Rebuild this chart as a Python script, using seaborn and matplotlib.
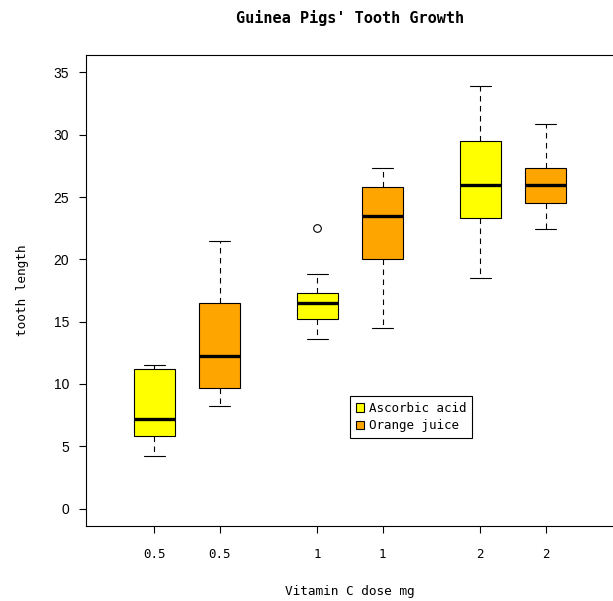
import numpy as np
import pandas as pd
import seaborn as sns
import matplotlib as mpl
import matplotlib.pyplot as plt
from matplotlib import cbook

# ToothGrowth: tooth length, 10 guinea pigs per dose and supplement
doses = ["0.5", "1", "2"]
supp_names = ["Ascorbic acid", "Orange juice"]
vc_05 = [4.2, 11.5, 7.3, 5.8, 6.4, 10.0, 11.2, 11.2, 5.2, 7.0]
vc_1 = [16.5, 16.5, 15.2, 17.3, 22.5, 17.3, 13.6, 14.5, 18.8, 15.5]
vc_2 = [23.6, 18.5, 33.9, 25.5, 26.4, 32.5, 26.7, 21.5, 23.3, 29.5]
oj_05 = [15.2, 21.5, 17.6, 9.7, 14.5, 10.0, 8.2, 9.4, 16.5, 9.7]
oj_1 = [19.7, 23.3, 23.6, 26.4, 20.0, 25.2, 25.8, 21.2, 14.5, 27.3]
oj_2 = [25.5, 26.4, 22.4, 24.5, 24.8, 30.9, 26.4, 27.3, 29.4, 23.0]
tick_labels = ["0.5", "0.5", "1", "1", "2", "2"]
colors = {"Ascorbic acid": "#FFFF00", "Orange juice": "#FFA500"}

# long table, boxes sit at dose index -/+ 0.2
rows = []
for supp, shift, groups in [("Ascorbic acid", -0.2, [vc_05, vc_1, vc_2]),
                            ("Orange juice", 0.2, [oj_05, oj_1, oj_2])]:
    for i, vals in enumerate(groups):
        for v in vals:
            rows.append({"pos": i + 1 + shift, "len": v, "supp": supp, "dose": doses[i]})
df = pd.DataFrame(rows)
tick_pos = sorted(df["pos"].unique())

# R boxplots use Tukey hinges (fivenum) rather than linear percentiles
_mpl_stats = cbook.boxplot_stats


def tukey_stats(X, whis=1.5, **kws):
    stats = _mpl_stats(X, whis=whis, **kws)
    for st, x in zip(stats, X):
        x = np.sort(np.asarray(x, dtype=float))
        n = len(x)
        n4 = np.floor((n + 3) / 2) / 2
        d = np.array([n4, n + 1 - n4]) - 1
        q1, q3 = 0.5 * (x[np.floor(d).astype(int)] + x[np.ceil(d).astype(int)])
        iqr = q3 - q1
        lo, hi = q1 - whis * iqr, q3 + whis * iqr
        inside = x[(x >= lo) & (x <= hi)]
        st.update(q1=q1, q3=q3, iqr=iqr, whislo=inside.min(), whishi=inside.max(),
                  fliers=x[(x < lo) | (x > hi)])
    return stats


mpl.cbook.boxplot_stats = tukey_stats

sns.set_style("white")
plt.rcParams["font.family"] = ["DejaVu Sans Mono", "DejaVu Sans"]
plt.rcParams["text.color"] = "black"
plt.rcParams["axes.labelcolor"] = "black"
plt.rcParams["xtick.color"] = "black"
plt.rcParams["ytick.color"] = "black"

fig = plt.figure(figsize=(6.13, 6.01), dpi=100)
ax = fig.add_axes([86 / 613, 1 - 526 / 601, 528 / 613, 471 / 601])

sns.boxplot(data=df, x="pos", y="len", hue="supp", native_scale=True, dodge=False,
            width=0.625, palette=colors, saturation=1, linecolor="black", linewidth=0.8,
            whiskerprops=dict(linestyle=(0, (5, 4))),
            medianprops=dict(linewidth=2.4),
            flierprops=dict(marker="o", markersize=5.5, markerfacecolor="none",
                            markeredgecolor="black", markeredgewidth=0.8),
            ax=ax)

ax.set_xlim(0.38, 3.62)
ax.set_ylim(-1.4, 36.4)
ax.set_xticks(tick_pos)
ax.set_xticklabels(tick_labels, fontsize=9)
ax.set_yticks(range(0, 36, 5))
ax.set_yticklabels([str(v) for v in range(0, 36, 5)], family="Liberation Sans", fontsize=10)
ax.tick_params(axis="x", direction="out", length=5, width=0.8, pad=11, bottom=True)
ax.tick_params(axis="y", direction="out", length=5, width=0.8, pad=7, left=True)
for s in ax.spines.values():
    s.set_visible(True)
    s.set_color("black")
    s.set_linewidth(0.8)

ax.set_xlabel("Vitamin C dose mg", fontsize=9.2)
ax.xaxis.set_label_coords(0.499, -0.125)
ax.set_ylabel("tooth length", fontsize=9.2)
ax.yaxis.set_label_coords(-0.108, 0.5)
fig.text(350 / 613, 1 - 18 / 601, "Guinea Pigs' Tooth Growth", ha="center", va="center",
         fontsize=11, fontweight="bold")

sns.move_legend(ax, "upper left", bbox_to_anchor=(2, 9), bbox_transform=ax.transData,
                title=None, frameon=True, fancybox=False, edgecolor="black", framealpha=1,
                borderaxespad=0, fontsize=9, handlelength=0.7, handleheight=0.7,
                handletextpad=0.35, labelspacing=0.35, borderpad=0.45)
ax.get_legend().get_frame().set_linewidth(0.8)

fig.savefig("out.png", dpi=100)
